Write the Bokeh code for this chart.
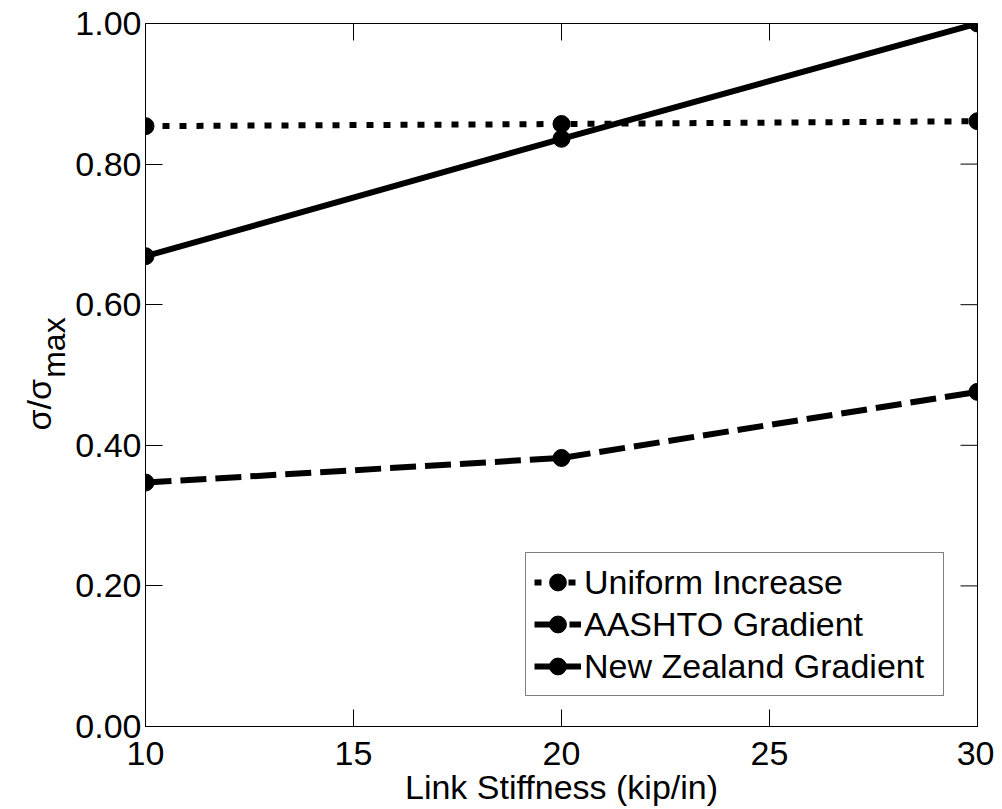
import math
from bokeh.plotting import figure
from bokeh.layouts import row
from bokeh.models import (Range1d, FixedTicker, NumeralTickFormatter,
                          Legend, LegendItem, ColumnDataSource)
from bokeh.core.properties import value
from bokeh.embed import file_html
from bokeh.resources import INLINE

# ---- data ----
stiffness = [10, 20, 30]
uniform_increase = [0.854, 0.857, 0.861]
aashto_gradient = [0.347, 0.382, 0.476]
nz_gradient = [0.669, 0.836, 1.000]

x_ticks = [10, 15, 20, 25, 30]
y_ticks = [0.0, 0.2, 0.4, 0.6, 0.8, 1.0]

series_names = ["Uniform Increase", "AASHTO Gradient", "New Zealand Gradient"]
series_values = [uniform_increase, aashto_gradient, nz_gradient]
series_dash = ["7 10", "26 9", "solid"]

y_label_main = "σ/σ"
y_label_sub = "max"

FONT = "Liberation Sans"
FS = "34px"
X0, X1, Y0, Y1 = 10, 30, 0, 1
LW = 70      # width of the y-label strip
FH = 703
TOP = 23
BOT = 86

# ---- y-label strip: same vertical frame as the main plot ----
lf = figure(frame_width=LW, frame_height=FH, x_range=Range1d(0, LW), y_range=Range1d(Y0, Y1),
            output_backend="svg", toolbar_location=None,
            min_border_left=0, min_border_right=0,
            min_border_top=TOP, min_border_bottom=BOT)
lf.axis.visible = False
lf.grid.visible = False
lf.outline_line_color = None
lf.background_fill_color = "white"
lf.border_fill_color = "white"
lf.text(x=[38], y=[0.421], text=[y_label_main], angle=math.pi / 2,
        text_font=value(FONT), text_font_size=FS, text_align="left",
        text_baseline="alphabetic", text_color="black")
lf.text(x=[53], y=[0.496], text=[y_label_sub], angle=math.pi / 2,
        text_font=value(FONT), text_font_size="32px", text_align="left",
        text_baseline="alphabetic", text_color="black")

# ---- main plot ----
p = figure(frame_width=832, frame_height=FH,
           x_range=Range1d(X0, X1), y_range=Range1d(Y0, Y1),
           output_backend="svg", toolbar_location=None,
           min_border_left=145 - LW, min_border_right=17,
           min_border_top=TOP, min_border_bottom=60)
p.grid.visible = False
p.outline_line_color = "black"
p.outline_line_width = 1
p.background_fill_color = "white"
p.border_fill_color = "white"

for ax in (p.xaxis[0], p.yaxis[0]):
    ax.major_tick_in = 17
    ax.major_tick_out = 0
    ax.minor_tick_in = 0
    ax.minor_tick_out = 0
    ax.axis_line_color = "black"
    ax.major_tick_line_color = "black"
    ax.major_label_text_font = FONT
    ax.major_label_text_font_size = FS
    ax.major_label_text_color = "black"

p.xaxis[0].ticker = FixedTicker(ticks=x_ticks)
p.yaxis[0].ticker = FixedTicker(ticks=y_ticks)
p.yaxis[0].formatter = NumeralTickFormatter(format="0.00")
p.xaxis[0].major_label_standoff = 15
p.yaxis[0].major_label_standoff = 4

p.xaxis[0].axis_label = "Link Stiffness (kip/in)"
p.xaxis[0].axis_label_text_font = FONT
p.xaxis[0].axis_label_text_font_size = FS
p.xaxis[0].axis_label_text_font_style = "normal"
p.xaxis[0].axis_label_text_color = "black"
p.xaxis[0].axis_label_standoff = 0

# mirrored ticks on top and right (inward, 17px)
p.ray(x=x_ticks, y=[Y1] * len(x_ticks), length=17, length_units="screen",
      angle=-math.pi / 2, line_color="black", line_width=1)
p.ray(x=[X1] * len(y_ticks), y=y_ticks, length=17, length_units="screen",
      angle=math.pi, line_color="black", line_width=1)

items = []
for name, vals, dash in zip(series_names, series_values, series_dash):
    src = ColumnDataSource(dict(x=stiffness, y=vals))
    r1 = p.line("x", "y", source=src, line_color="black", line_width=6,
                line_dash=dash, line_cap="butt")
    r2 = p.scatter("x", "y", source=src, marker="circle", size=17,
                   fill_color="black", line_color="black")
    items.append(LegendItem(label=name, renderers=[r1, r2]))

legend = Legend(items=items, location=(380, 30), orientation="vertical",
                glyph_width=47, glyph_height=42, label_height=42, label_width=351,
                label_standoff=3, spacing=0, padding=8, margin=0,
                label_text_font=FONT, label_text_font_size=FS,
                label_text_color="black", label_text_baseline="middle",
                border_line_color="black", border_line_width=1,
                background_fill_color="white", background_fill_alpha=1)
p.add_layout(legend, "center")

layout = row(lf, p, spacing=0)
open("out.html", "w").write(file_html(layout, INLINE))
